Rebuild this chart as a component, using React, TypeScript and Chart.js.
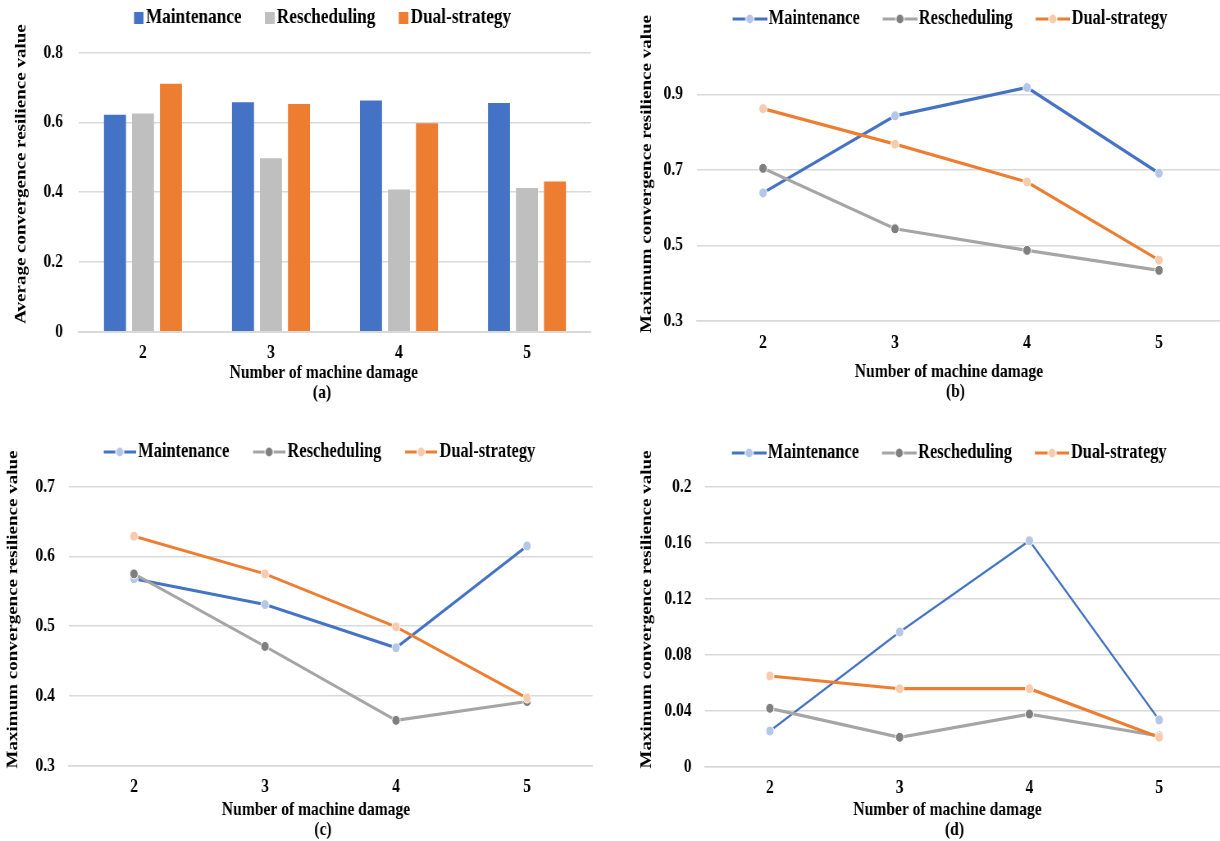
import React, { useEffect, useRef } from 'react';
import { Chart, registerables } from 'chart.js';

Chart.register(...registerables);

// ---------- data ----------
const CATEGORIES = ['2', '3', '4', '5'];
const SERIES = ['Maintenance', 'Rescheduling', 'Dual-strategy'];
const X_TITLE = 'Number of machine damage';
const Y_TITLE_AVG = 'Average convergence resilience value';
const Y_TITLE_MAX = 'Maximum convergence resilience value';

const A_MAINT = [0.622, 0.658, 0.663, 0.656];
const A_RESCH = [0.626, 0.497, 0.408, 0.412];
const A_DUAL = [0.711, 0.653, 0.598, 0.431];

const B_MAINT = [0.639, 0.843, 0.918, 0.691];
const B_RESCH = [0.704, 0.544, 0.487, 0.434];
const B_DUAL = [0.862, 0.768, 0.668, 0.461];

const C_MAINT = [0.568, 0.531, 0.469, 0.615];
const C_RESCH = [0.575, 0.471, 0.365, 0.392];
const C_DUAL = [0.629, 0.575, 0.499, 0.397];

const D_MAINT = [0.0255, 0.0962, 0.1614, 0.0334];
const D_RESCH = [0.0417, 0.021, 0.0376, 0.0219];
const D_DUAL = [0.0648, 0.0557, 0.0557, 0.021];

const A_TICKS = [0, 0.2, 0.4, 0.6, 0.8];
const B_TICKS = [0.3, 0.5, 0.7, 0.9];
const C_TICKS = [0.3, 0.4, 0.5, 0.6, 0.7];
const D_TICKS = [0, 0.04, 0.08, 0.12, 0.16, 0.2];

// ---------- styles ----------
const FONT = "'Liberation Serif', 'Times New Roman', serif";
const SX = 0.82;
const LINE_COLORS = ['#4472C4', '#A5A5A5', '#ED7D31'];
const DOT_COLORS = ['#B4C7E7', '#7F7F7F', '#F8CBAD'];
const BAR_COLORS = ['#4472C4', '#BFBFBF', '#ED7D31'];
const GRID = '#D9D9D9';

const PANELS = [
  {
    key: 'a', type: 'bar', left: 0, top: 0, width: 744, height: 420,
    padL: 44.9, padR: 23.3, padTop: 0, padBottom: 17,
    chartLeft: 96.3, xAxisHeight: 71.3, spacer: 14.2,
    yTickPad: 19.5, xTickPad: 10, yMin: 0, yMax: 0.8, yTicks: A_TICKS,
    yTitle: { text: Y_TITLE_AVG, x: 25.6, y: 174 },
    xLines: [{ x: 394.8, y: 373 }, { x: 392.7, y: 393 }], tag: '(a)',
    legend: { fs: 21, p: 7.5, bw: 25, iw: 41, m: 12 },
    values: [A_MAINT, A_RESCH, A_DUAL], widths: [0, 0, 0], xBorder: 2,
  },
  {
    key: 'b', type: 'line', left: 610, top: 0, width: 760, height: 420,
    padL: 60.2, padR: 10, padTop: 0, padBottom: 18,
    chartLeft: 106.1, xAxisHeight: 81, spacer: 17.5,
    yTickPad: 17, xTickPad: 10.6, yMin: 0.3, yMax: 1.0, yTicks: B_TICKS,
    yTitle: { text: Y_TITLE_MAX, x: 45.1, y: 174 },
    xLines: [{ x: 413.4, y: 372 }, { x: 421.3, y: 392 }], tag: '(b)',
    legend: { fs: 20, p: 9, bw: 53, iw: 69, m: 42 },
    values: [B_MAINT, B_RESCH, B_DUAL], widths: [3.2, 3.2, 3.2], xBorder: 1.5,
  },
  {
    key: 'c', type: 'line', left: 0, top: 420, width: 744, height: 421,
    padL: 36.6, padR: 21.4, padTop: 13, padBottom: 1,
    chartLeft: 83.5, xAxisHeight: 74.3, spacer: 14.7,
    yTickPad: 16.4, xTickPad: 9.9, yMin: 0.3, yMax: 0.7, yTicks: C_TICKS,
    yTitle: { text: Y_TITLE_MAX, x: 15.9, y: 189.5 },
    xLines: [{ x: 385.4, y: 390 }, { x: 393.9, y: 410 }], tag: '(c)',
    legend: { fs: 20, p: 9, bw: 52, iw: 66, m: 39 },
    values: [C_MAINT, C_RESCH, C_DUAL], widths: [3, 3, 3], xBorder: 1.5,
  },
  {
    key: 'd', type: 'line', left: 610, top: 420, width: 760, height: 421,
    padL: 59.6, padR: 11.2, padTop: 14, padBottom: 1,
    chartLeft: 115.9, xAxisHeight: 73.3, spacer: 13.7,
    yTickPad: 16.5, xTickPad: 9.6, yMin: 0, yMax: 0.2, yTicks: D_TICKS,
    yTitle: { text: Y_TITLE_MAX, x: 45.1, y: 189.5 },
    xLines: [{ x: 411.6, y: 390 }, { x: 420.1, y: 410 }], tag: '(d)',
    legend: { fs: 20, p: 9, bw: 53, iw: 69, m: 42 },
    values: [D_MAINT, D_RESCH, D_DUAL], widths: [2.2, 3.2, 3.2], xBorder: 1.5,
  },
];

// draws the axis titles as text
const panelTextPlugin = {
  id: 'panelText',
  afterDraw(chart: any, _args: any, opts: any) {
    if (!opts || !opts.yTitle) return;
    const ctx = chart.ctx;
    ctx.save();
    ctx.fillStyle = '#000';
    ctx.font = `bold ${opts.size}px ${FONT}`;
    ctx.textAlign = 'center';
    ctx.textBaseline = 'middle';
    ctx.save();
    ctx.translate(opts.yTitle.x, opts.yTitle.y);
    ctx.rotate(-Math.PI / 2);
    ctx.fillText(opts.yTitle.text, 0, 0);
    ctx.restore();
    (opts.xLines || []).forEach((l: any) => ctx.fillText(l.text, l.x, l.y));
    ctx.restore();
  },
};

function legendImage(type: string, idx: number, L: any) {
  const c = document.createElement('canvas');
  const h = 14;
  c.width = L.iw;
  c.height = h;
  const g = c.getContext('2d')!;
  const x0 = L.iw - L.m;
  if (type === 'bar') {
    g.fillStyle = BAR_COLORS[idx];
    g.fillRect(x0, (h - 12) / 2, L.m, 12);
  } else {
    g.strokeStyle = LINE_COLORS[idx];
    g.lineWidth = 3.2;
    g.beginPath();
    g.moveTo(x0, h / 2);
    g.lineTo(L.iw, h / 2);
    g.stroke();
    g.beginPath();
    g.arc(x0 + L.m / 2, h / 2, 5, 0, Math.PI * 2);
    g.fillStyle = DOT_COLORS[idx];
    g.fill();
    g.strokeStyle = '#FFFFFF';
    g.lineWidth = 1.2;
    g.stroke();
  }
  return c;
}

function Panel({ cfg }: { cfg: any }) {
  const ref = useRef<HTMLCanvasElement>(null);
  useEffect(() => {
    const canvas = ref.current;
    if (!canvas) return;
    const L = cfg.legend;
    const imgs = SERIES.map((_, i) => legendImage(cfg.type, i, L));
    const tickFont = { family: FONT, size: 19, weight: 'bold' as const };

    const datasets = SERIES.map((name, i) =>
      cfg.type === 'bar'
        ? {
            label: name,
            data: cfg.values[i],
            backgroundColor: BAR_COLORS[i],
            borderWidth: 0,
            categoryPercentage: 0.656,
            barPercentage: 0.786,
          }
        : {
            label: name,
            data: cfg.values[i],
            borderColor: LINE_COLORS[i],
            backgroundColor: LINE_COLORS[i],
            borderWidth: cfg.widths[i],
            pointRadius: 5,
            pointBackgroundColor: DOT_COLORS[i],
            pointBorderColor: '#FFFFFF',
            pointBorderWidth: 1,
            tension: 0,
            fill: false,
            order: 2 - i,
          }
    );

    const chart = new Chart(canvas, {
      type: cfg.type,
      data: { labels: CATEGORIES, datasets },
      options: {
        responsive: false,
        animation: false,
        events: [],
        layout: {
          padding: { left: cfg.padL, right: cfg.padR, top: cfg.padTop, bottom: cfg.padBottom },
        },
        plugins: {
          legend: {
            display: true,
            position: 'top',
            align: 'center',
            labels: {
              usePointStyle: true,
              pointStyleWidth: L.bw,
              padding: L.p,
              color: '#000',
              font: { family: FONT, size: L.fs, weight: 'bold' },
              generateLabels: () =>
                SERIES.map((name, i) => ({
                  text: name,
                  pointStyle: imgs[i],
                  fontColor: '#000',
                  datasetIndex: i,
                  hidden: false,
                  lineWidth: 0,
                  fillStyle: 'rgba(0,0,0,0)',
                  strokeStyle: 'rgba(0,0,0,0)',
                })),
            },
          },
          title: {
            display: true,
            text: '',
            position: 'top',
            weight: 100,
            font: { size: 1, lineHeight: 1 },
            padding: { top: 0, bottom: cfg.spacer - 1 },
          },
          tooltip: { enabled: false },
          panelText: {
            size: 19,
            yTitle: cfg.yTitle,
            xLines: [
              { text: X_TITLE, x: cfg.xLines[0].x, y: cfg.xLines[0].y },
              { text: cfg.tag, x: cfg.xLines[1].x, y: cfg.xLines[1].y },
            ],
          },
        } as any,
        scales: {
          x: {
            type: 'category',
            offset: true,
            grid: { display: false, drawTicks: false },
            border: { display: true, color: GRID, width: cfg.xBorder },
            ticks: { font: tickFont, color: '#000', padding: cfg.xTickPad, maxRotation: 0, autoSkip: false },
            title: { display: false },
            afterFit: (s: any) => {
              s.height = cfg.xAxisHeight;
            },
          },
          y: {
            type: 'linear',
            min: cfg.yMin,
            max: cfg.yMax,
            grid: { color: GRID, lineWidth: 1.5, drawTicks: false },
            border: { display: false },
            ticks: {
              font: tickFont,
              color: '#000',
              padding: cfg.yTickPad,
              callback: (v: any) => String(v),
            },
            afterBuildTicks: (axis: any) => {
              axis.ticks = cfg.yTicks.map((v: number) => ({ value: v }));
            },
            afterFit: (s: any) => {
              s.width = cfg.chartLeft - cfg.padL;
            },
          },
        } as any,
      },
      plugins: [panelTextPlugin],
    } as any);
    return () => chart.destroy();
  }, [cfg]);

  return (
    <canvas
      ref={ref}
      width={cfg.width}
      height={cfg.height}
      style={{
        position: 'absolute',
        left: cfg.left,
        top: cfg.top,
        transform: `scaleX(${SX})`,
        transformOrigin: '0 0',
      }}
    />
  );
}

export default function App() {
  return (
    <div
      style={{
        position: 'absolute',
        left: 0,
        top: 0,
        width: 1220,
        height: 841,
        overflow: 'hidden',
        background: '#FFFFFF',
      }}
    >
      {PANELS.map((p) => (
        <Panel key={p.key} cfg={p} />
      ))}
    </div>
  );
}
